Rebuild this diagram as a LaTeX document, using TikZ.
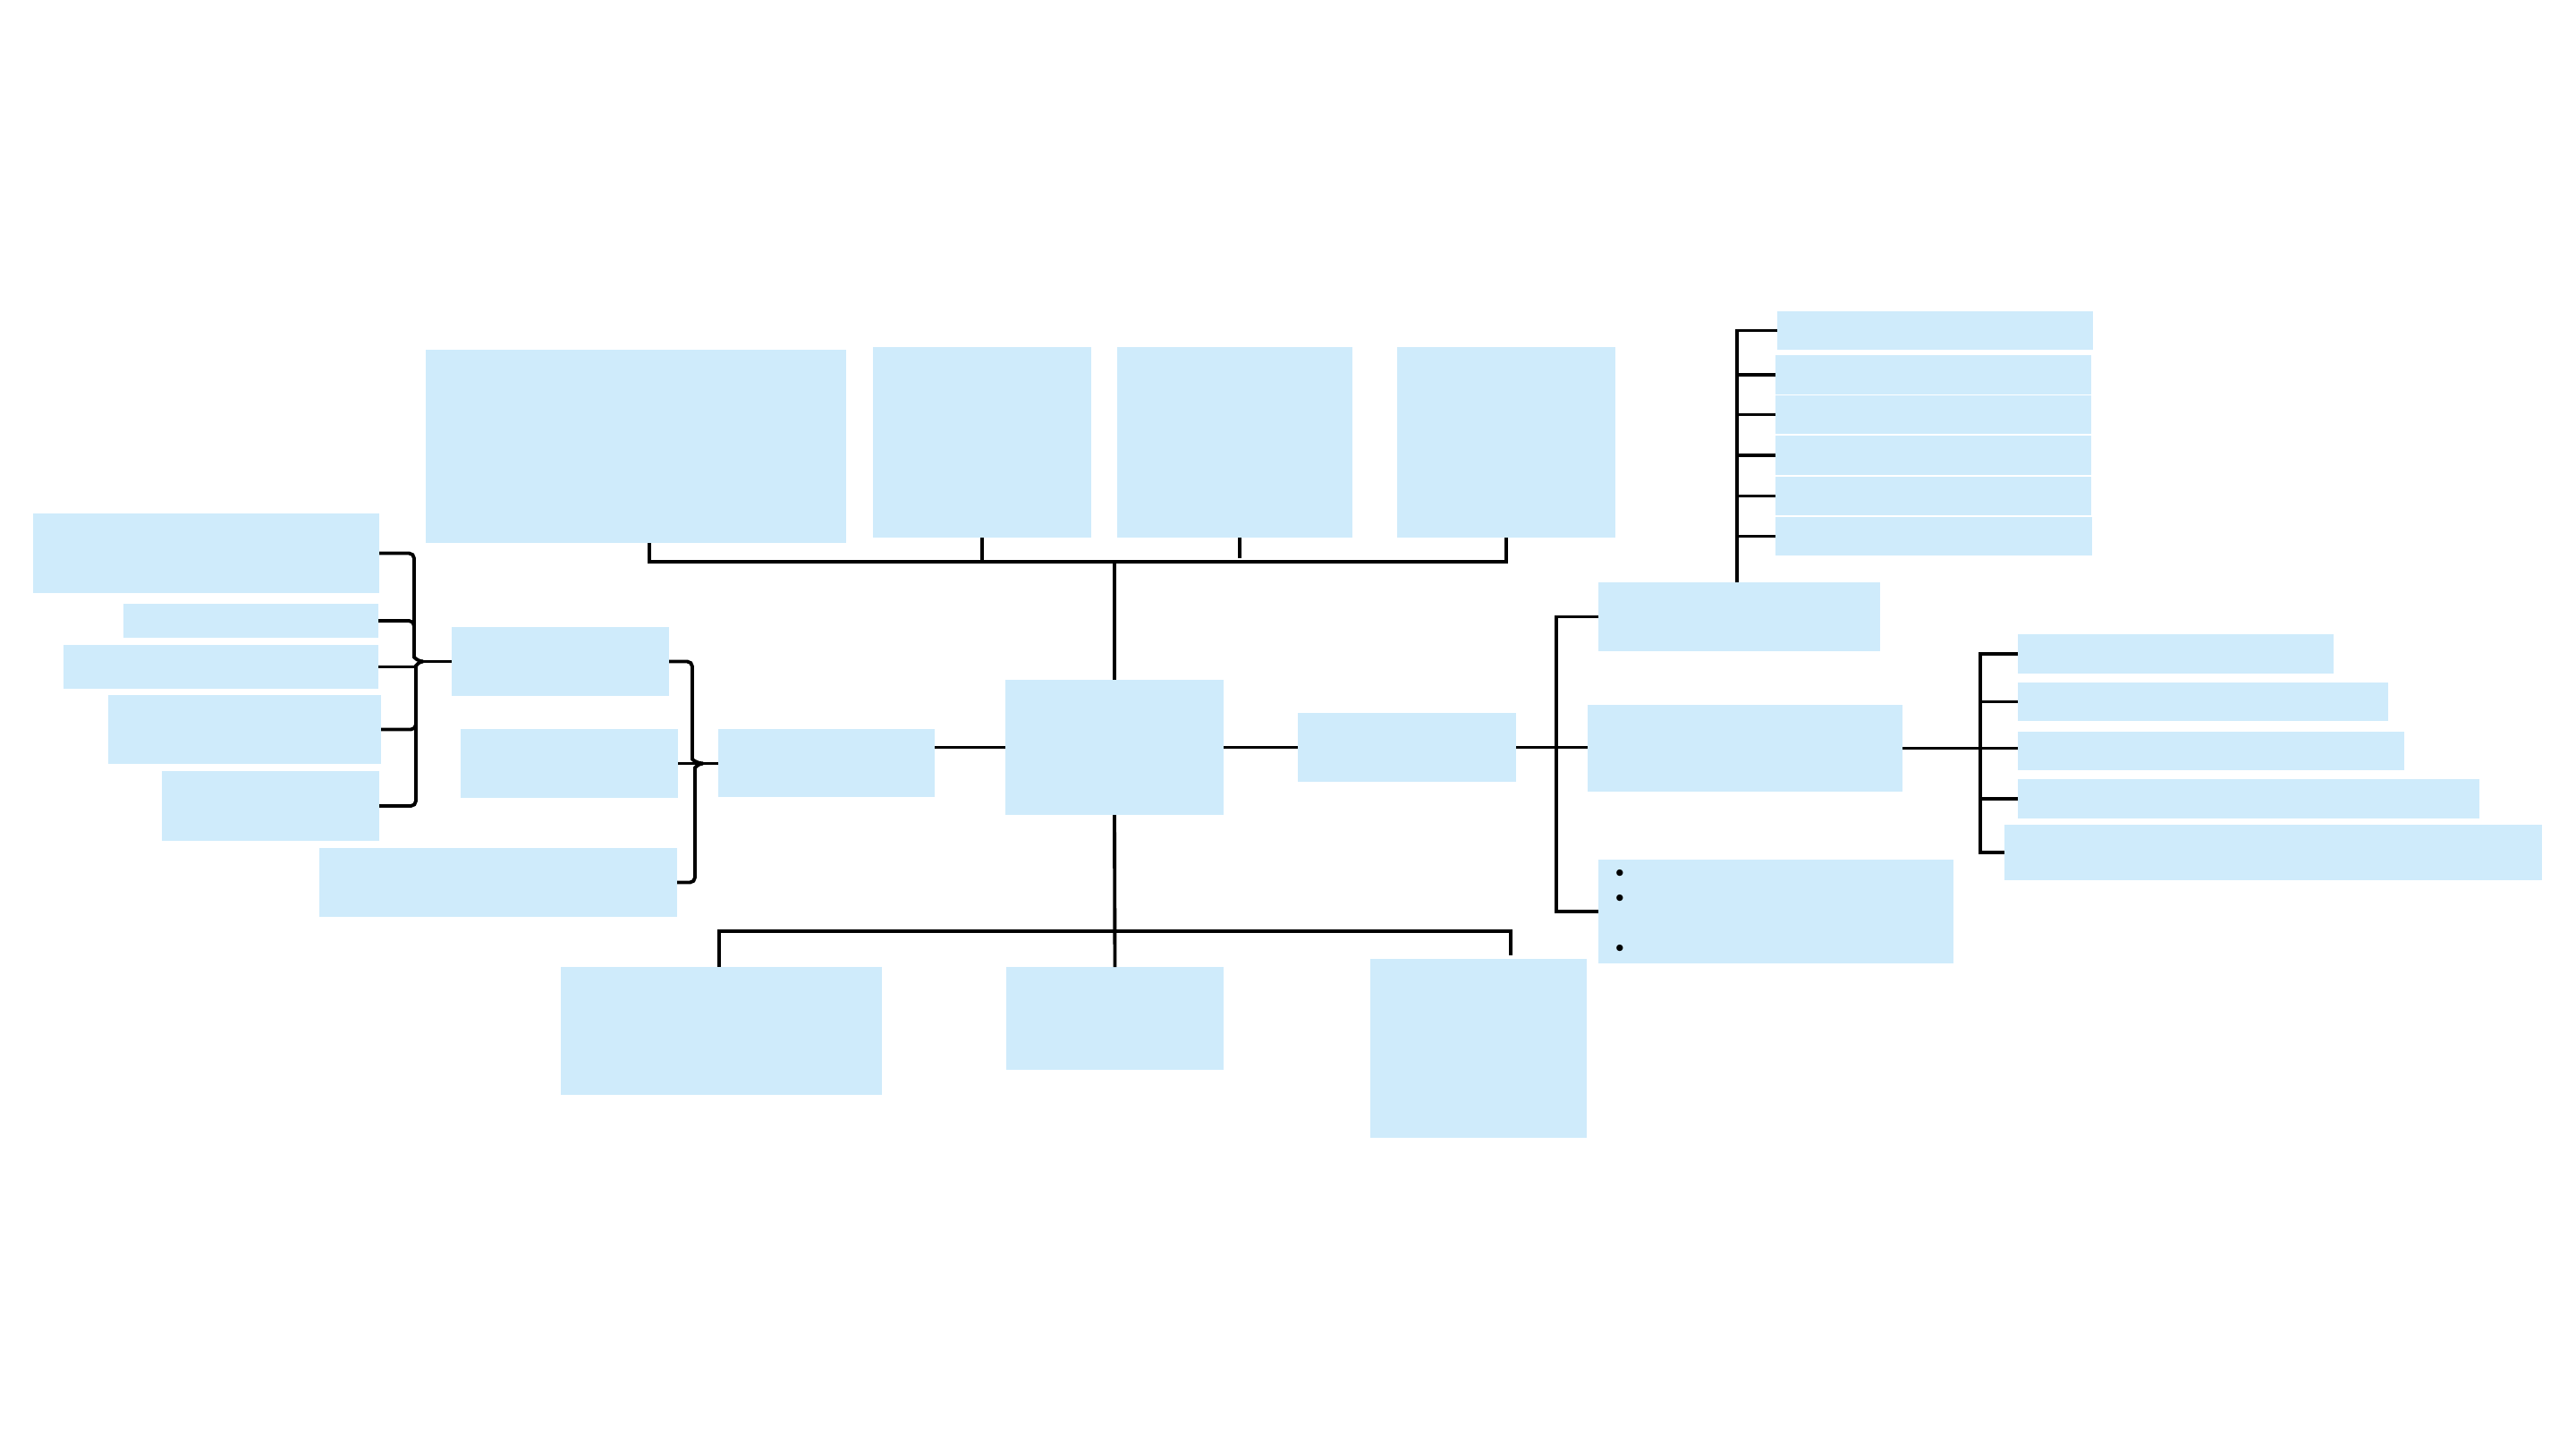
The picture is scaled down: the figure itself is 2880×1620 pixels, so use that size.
\documentclass[tikz,border=0pt]{standalone}
\usetikzlibrary{calc}
\definecolor{boxblue}{RGB}{207,235,251}
\tikzset{
  box/.style={fill=boxblue, draw=none, inner sep=0pt, outer sep=0pt, rectangle},
  ln/.style={draw=black, line width=1.1pt},
  rln/.style={ln, rounded corners=1.6pt},
  bul/.style={inner sep=0pt, font=\fontsize{7}{7}\selectfont}
}
\newcommand\bx[5]{\node[box, minimum width={(#4-#2)*0.01cm}, minimum height={(#5-#3)*0.01cm}] (#1) at ({(#2+#4)/2},{(#3+#5)/2}) {};}
\begin{document}
\begin{tikzpicture}[x=0.01cm,y=-0.01cm]
\useasboundingbox (0,0) rectangle (2880,1620);
% left column
\bx{L1}{37}{574}{424}{663}
\bx{L2}{138}{675}{423}{713}
\bx{L3}{71}{721}{423}{770}
\bx{L4}{121}{777}{426}{854}
\bx{L5}{181}{862}{424}{940}
\bx{M1}{505}{701}{748}{778}
\bx{M2}{515}{815}{758}{892}
\bx{M3}{357}{948}{757}{1025}
\bx{N}{803}{815}{1045}{891}
\bx{C}{1124}{760}{1368}{911}
% top row
\bx{T1}{476}{391}{946}{607}
\bx{T2}{976}{388}{1220}{601}
\bx{T3}{1249}{388}{1512}{601}
\bx{T4}{1562}{388}{1806}{601}
% bottom row
\bx{B1}{627}{1081}{986}{1224}
\bx{B2}{1125}{1081}{1368}{1196}
\bx{B3}{1532}{1072}{1774}{1272}
% right side
\bx{R0}{1451}{797}{1695}{874}
\bx{RA}{1787}{651}{2102}{728}
\bx{RB}{1775}{788}{2127}{885}
\bx{RC}{1787}{961}{2184}{1077}
\bx{TR1}{1987}{348}{2340}{391}
\bx{TR2}{1985}{397}{2338}{441}
\bx{TR3}{1985}{442}{2338}{485}
\bx{TR4}{1985}{487}{2338}{531}
\bx{TR5}{1985}{533}{2338}{576}
\bx{TR6}{1985}{578}{2339}{621}
\bx{RR1}{2256}{709}{2609}{753}
\bx{RR2}{2256}{763}{2670}{806}
\bx{RR3}{2256}{818}{2688}{861}
\bx{RR4}{2256}{871}{2772}{915}
\bx{RR5}{2241}{922}{2842}{984}
% bullets
\node[bul] (b1) at (1811,977) {\textbullet};
\node[bul] (b2) at (1811,1005) {\textbullet};
\node[bul] (b3) at (1811,1061) {\textbullet};
% coordinates
\coordinate (jL) at (473,739.5);
\coordinate (lvU) at (463,729);
\coordinate (lvD) at (465,750);
\coordinate (jM) at (786,853.5);
\coordinate (mvU) at (774,843);
\coordinate (mvD) at (777,864);
\coordinate (t1d) at (726,628);
\coordinate (t3d) at (1386,624);
\coordinate (t4d) at (1684,628);
\coordinate (bb1) at (804,1041);
\coordinate (bb3) at (1689,1041);
\coordinate (b3e) at (1689,1068);
\coordinate (rv) at (1740,1019);
\coordinate (tv) at (1942,369.5);
\coordinate (rvb) at (2214,953);
% left brace 1
\draw[rln] (L1.east) -| (lvU) to[out=-90,in=180] (jL);
\draw[rln] (L5.east) -| (lvD) to[out=90,in=180] (jL);
\draw[rln] (L2.east) -| ($(lvU)+(0,-10)$);
\draw[ln] (L3.east) -- (L3.east -| lvU);
\draw[rln] (L4.east) -| ($(lvD)+(0,20)$);
\draw[ln] (jL) -- (jL -| M1.west);
% left brace 2
\draw[rln] (M1.east) -| (mvU) to[out=-90,in=180] (jM);
\draw[rln] (M3.east) -| (mvD) to[out=90,in=180] (jM);
\draw[ln] (M2.east) -- (M2.east -| N.west);
% centre links
\draw[ln] (C.west) -- (C.west -| N.east);
\draw[ln] (C.east) -- (R0.west);
% top
\draw[ln] (T1.south -| t1d) -- (t1d) -- (t4d) -- (T4.south -| t4d);
\draw[ln] (T2.south) -- (T2.south |- t1d);
\draw[ln] (T3.south -| t3d) -- (t3d);
\draw[ln] (C.north) -- (C.north |- t1d);
% bottom
\draw[ln] (B1.north -| bb1) -- (bb1) -- (bb3) -- (b3e);
\draw[ln] (C.south) -- (B2.north);
% right fan
\draw[ln] (R0.east) -- (R0.east -| RB.west);
\draw[ln] (RA.west) -| (rv) -- (RC.west);
% top-right list
\draw[ln] (RA.north -| tv) -- (tv) -- (TR1.west);
\foreach \t in {TR2,TR3,TR4,TR5,TR6}{\draw[ln] (\t.west) -- (\t.west -| tv);}
% right list
\draw[ln] (RB.east) -- (RB.east -| RR3.west);
\draw[ln] (RR1.west) -| (rvb) -- (RR5.west);
\draw[ln] (RR2.west) -- (RR2.west -| rvb);
\draw[ln] (RR4.west) -- (RR4.west -| rvb);
\end{tikzpicture}
\end{document}
